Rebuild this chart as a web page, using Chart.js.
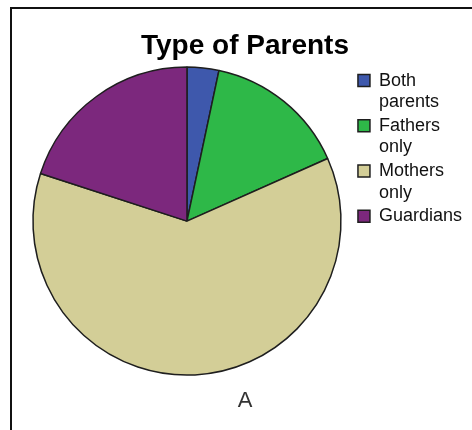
<!DOCTYPE html>
<html>
<head>
<meta charset="utf-8">
<script src="https://cdn.jsdelivr.net/npm/chart.js@4/dist/chart.umd.min.js"></script>
<style>
  html, body { margin: 0; padding: 0; background: #fff; }
  .wrap { position: relative; width: 472px; height: 430px; overflow: hidden; }
  .frame {
    position: absolute; left: 10px; top: 7px; width: 480px; height: 440px;
    border-top: 2px solid #111; border-left: 2px solid #111;
    pointer-events: none;
  }
  canvas { position: absolute; left: 0; top: 0; }
</style>
</head>
<body>
<div class="wrap">
  <canvas id="pieChart" width="472" height="430"></canvas>
  <div class="frame"></div>
</div>
<script>
// categories (legend text, split on two lines like the original)
const categories = [["Both", "parents"], ["Fathers", "only"], ["Mothers", "only"], ["Guardians"]];
// counts
const counts = [2, 9, 37, 12];
const sliceColors = ["#3E58AC", "#2EB848", "#D3CE97", "#7C287D"];

const fontFamily = "'Liberation Sans', Arial, sans-serif";

new Chart(document.getElementById("pieChart"), {
  type: "pie",
  data: {
    labels: categories,
    datasets: [
      {
        data: counts,
        backgroundColor: sliceColors,
        borderColor: "#1e1e1e",
        borderWidth: 1.5,
        radius: 154,
      },
    ],
  },
  options: {
    responsive: false,
    animation: false,
    devicePixelRatio: 1,
    layout: { padding: { left: 18, right: 0, top: 0, bottom: 0 } },
    plugins: {
      title: {
        display: true,
        text: "Type of Parents",
        color: "#000",
        font: { family: fontFamily, size: 28, weight: "bold", lineHeight: 1.2 },
        padding: { top: 29, bottom: 0 },
      },
      subtitle: {
        display: true,
        position: "bottom",
        text: "A",
        color: "#333",
        font: { family: fontFamily, size: 22, weight: "normal", lineHeight: 1.2 },
        padding: { top: 8, bottom: 16 },
      },
      legend: {
        position: "right",
        align: "start",
        fullSize: false,
        // empty title only used as a spacer above the items
        title: {
          display: true,
          text: " ",
          font: { size: 1, lineHeight: 1 },
          padding: { top: 3, bottom: 3 },
        },
        labels: {
          boxWidth: 12,
          boxHeight: 12,
          padding: 2,
          color: "#111",
          font: { family: fontFamily, size: 18, lineHeight: 1.2 },
        },
      },
      tooltip: { enabled: false },
    },
  },
});
</script>
</body>
</html>
